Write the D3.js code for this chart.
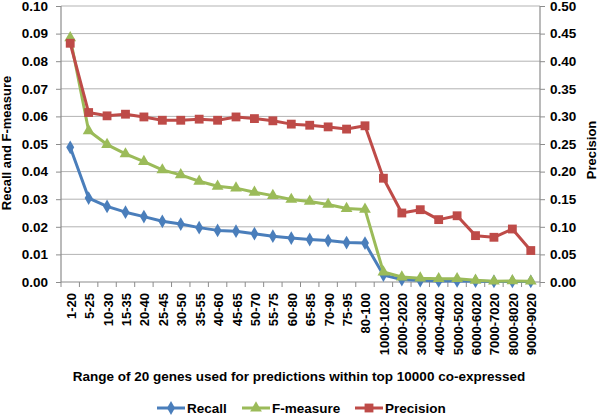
<!DOCTYPE html>
<html><head><meta charset="utf-8">
<script src="https://cdn.jsdelivr.net/npm/d3@7"></script>
<style>body{margin:0;background:#fff}svg{display:block;font-family:"Liberation Sans",Arial,sans-serif;font-weight:bold}</style>
</head><body><svg id="c" width="600" height="417"></svg>
<script>
const categories = ["1-20","5-25","10-30","15-35","20-40","25-45","30-50","35-55","40-60","45-65","50-70","55-75","60-80","65-85","70-90","75-95","80-100","1000-1020","2000-2020","3000-3020","4000-4020","5000-5020","6000-6020","7000-7020","8000-8020","9000-9020"];
const recall = [0.0488,0.0304,0.0274,0.0253,0.0237,0.0220,0.0210,0.0197,0.0187,0.0184,0.0175,0.0166,0.0159,0.0154,0.0150,0.0143,0.0141,0.0025,0.0009,0.0005,0.0004,0.0004,0.0003,0.0002,0.0002,0.0002];
const fmeasure = [0.0885,0.0548,0.0498,0.0464,0.0436,0.0406,0.0388,0.0365,0.0347,0.0340,0.0325,0.0313,0.0299,0.0292,0.0281,0.0266,0.0263,0.0036,0.0018,0.0014,0.0012,0.0012,0.0006,0.0003,0.0004,0.0003];
const precision = [0.4325,0.307,0.301,0.304,0.299,0.293,0.293,0.295,0.293,0.299,0.296,0.292,0.286,0.284,0.281,0.277,0.283,0.188,0.125,0.131,0.113,0.120,0.084,0.081,0.096,0.057];
const leftTicks = [0,0.01,0.02,0.03,0.04,0.05,0.06,0.07,0.08,0.09,0.10];
const rightTicks = [0,0.05,0.10,0.15,0.20,0.25,0.30,0.35,0.40,0.45,0.50];

const svg = d3.select("#c");
const L = 61, R = 540, T = 6, B = 282;
const x = d3.scaleBand().domain(categories).range([L, R]);
const yL = d3.scaleLinear().domain([0, 0.10]).range([B, T]);
const yR = d3.scaleLinear().domain([0, 0.50]).range([B, T]);
const cx = d => x(d) + x.bandwidth()/2;
const FONT = "'Liberation Sans',Arial,sans-serif";

// gridlines
svg.append("g").selectAll("line").data(leftTicks.slice(1)).join("line")
  .attr("x1", L).attr("x2", R).attr("y1", d=>yL(d)).attr("y2", d=>yL(d))
  .attr("stroke", "#b3b3b3").attr("stroke-width", 1);

// left axis
const gL = svg.append("g").attr("transform", `translate(${L},0)`)
  .call(d3.axisLeft(yL).tickValues(leftTicks).tickFormat(d3.format(".2f")).tickSize(5).tickPadding(8));
// right axis
const gR = svg.append("g").attr("transform", `translate(${R},0)`)
  .call(d3.axisRight(yR).tickValues(rightTicks).tickFormat(d3.format(".2f")).tickSize(5).tickPadding(5));
// bottom axis
const gB = svg.append("g").attr("transform", `translate(0,${B})`)
  .call(d3.axisBottom(x).tickSize(0).tickPadding(0));
[gL, gR, gB].forEach(g => {
  g.select(".domain").attr("stroke", "#8c8c8c").attr("stroke-width", 1.2);
  g.selectAll(".tick line").attr("stroke", "#8c8c8c");
  g.selectAll("text").attr("fill", "#000").attr("font-size", 13.5).attr("font-family", FONT).attr("font-weight", "bold");
});
gL.select(".domain").attr("d", `M-0,${B}V${T}`);
gR.select(".domain").attr("d", `M0,${B}V${T}`);
gB.select(".domain").attr("d", `M${L},0H${R}`);
gB.selectAll(".tick text")
  .attr("font-size", 13)
  .attr("text-anchor", "end")
  .attr("transform", "translate(5.5,11) rotate(-90)")
  .attr("dy", 0).attr("y", 0).attr("x", 0);
// x tick marks at boundaries
svg.append("g").selectAll("line").data(categories.concat([null])).join("line")
  .attr("x1", (d,i)=> L + i*x.bandwidth()).attr("x2", (d,i)=> L + i*x.bandwidth())
  .attr("y1", B).attr("y2", B+5).attr("stroke", "#8c8c8c");

// series
const series = [
  {name:"Recall", data: recall, y: yL, color:"#4a7ebb", shape: d3.symbolDiamond, size: 55},
  {name:"F-measure", data: fmeasure, y: yL, color:"#9bbb59", shape: d3.symbolTriangle, size: 60},
  {name:"Precision", data: precision, y: yR, color:"#be4b48", shape: d3.symbolSquare, size: 78}
];
series.forEach(s => {
  const line = d3.line().x((d,i)=>cx(categories[i])).y(d=>s.y(d));
  svg.append("path").attr("d", line(s.data)).attr("fill","none").attr("stroke", s.color).attr("stroke-width", 3).attr("stroke-linejoin","round");
  svg.append("g").selectAll("path").data(s.data).join("path")
    .attr("d", d3.symbol().type(s.shape).size(s.size))
    .attr("transform", (d,i)=>`translate(${cx(categories[i])},${s.y(d)})`)
    .attr("fill", s.color);
});

// axis titles
svg.append("text").attr("transform", `translate(11,143) rotate(-90)`).attr("text-anchor","middle")
  .attr("font-size", 13).text("Recall and F-measure");
svg.append("text").attr("transform", `translate(596,150) rotate(-90)`).attr("text-anchor","middle")
  .attr("font-size", 13).text("Precision");
svg.append("text").attr("x", 299).attr("y", 381).attr("text-anchor","middle")
  .attr("font-size", 13.5).text("Range of 20 genes used for predictions within top 10000 co-expressed");

// legend
const legX = [157, 242, 355];
series.forEach((s, i) => {
  const g = svg.append("g").attr("transform", `translate(${legX[i]},408)`);
  g.append("line").attr("x1",0).attr("x2",28).attr("y1",0).attr("y2",0).attr("stroke", s.color).attr("stroke-width",3);
  g.append("path").attr("d", d3.symbol().type(s.shape).size(s.size)).attr("transform","translate(14,0)").attr("fill", s.color);
  g.append("text").attr("x", 30).attr("y", 5).attr("font-size", 13.5).text(s.name);
});
</script></body></html>
